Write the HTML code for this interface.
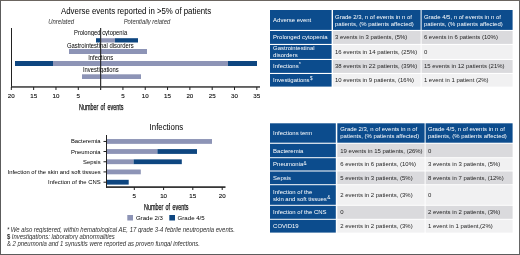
<!DOCTYPE html>
<html><head><meta charset="utf-8"><style>
*{margin:0;padding:0;box-sizing:border-box}
html,body{width:520px;height:255px;overflow:hidden;background:#fff}
body{position:relative;font-family:"Liberation Sans",sans-serif}
.r{position:absolute}
.t{position:absolute;white-space:nowrap;line-height:0;height:0;filter:grayscale(1) blur(0.3px)}
.t>span{display:inline-block;line-height:normal;transform:translateY(-0.905em);}
.ne{font-size:8.2px;color:#111;word-spacing:1.3px;-webkit-text-stroke:0.25px #111}
.ne>span{transform:translateY(-0.905em) scaleX(0.66);transform-origin:0 0;}
.cell{position:absolute;font-size:5.97px;line-height:7.1px;display:flex;align-items:center;white-space:nowrap}
.cell>div{filter:grayscale(1) blur(0.25px)}
.cell sup{font-size:4.6px;vertical-align:baseline;position:relative;top:-1.9px;line-height:0;margin-left:0.3px}
.frame{position:absolute;left:0;top:0;width:520px;height:255px;border:1px solid #5c5c5c;border-top-color:#6b6560;border-right-color:#666;z-index:10}
</style></head>
<body>
<svg width="520" height="255" style="position:absolute;left:0;top:0"><rect x="96.00" y="38.20" width="4.70" height="4.30" fill="#0e4680"/><rect x="100.70" y="38.20" width="14.30" height="4.30" fill="#8d94b6"/><rect x="115.00" y="38.20" width="23.00" height="4.30" fill="#0e4680"/><rect x="69.00" y="49.00" width="78.00" height="5.00" fill="#8d94b6"/><rect x="15.00" y="61.00" width="38.00" height="5.00" fill="#0e4680"/><rect x="53.00" y="61.00" width="175.00" height="5.00" fill="#8d94b6"/><rect x="228.00" y="61.00" width="29.00" height="5.00" fill="#0e4680"/><rect x="82.00" y="74.30" width="59.00" height="4.70" fill="#8d94b6"/><rect x="11.00" y="28.00" width="1.00" height="59.50" fill="#222"/><rect x="100.10" y="28.00" width="1.10" height="62.00" fill="#222"/><rect x="11.00" y="86.20" width="249.00" height="1.50" fill="#383838"/><rect x="10.83" y="87.00" width="1.00" height="3.00" fill="#222"/><rect x="33.15" y="87.00" width="1.00" height="3.00" fill="#222"/><rect x="55.46" y="87.00" width="1.00" height="3.00" fill="#222"/><rect x="77.78" y="87.00" width="1.00" height="3.00" fill="#222"/><rect x="122.42" y="87.00" width="1.00" height="3.00" fill="#222"/><rect x="144.74" y="87.00" width="1.00" height="3.00" fill="#222"/><rect x="167.05" y="87.00" width="1.00" height="3.00" fill="#222"/><rect x="189.37" y="87.00" width="1.00" height="3.00" fill="#222"/><rect x="211.69" y="87.00" width="1.00" height="3.00" fill="#222"/><rect x="234.01" y="87.00" width="1.00" height="3.00" fill="#222"/><rect x="256.33" y="87.00" width="1.00" height="3.00" fill="#222"/><rect x="106.80" y="139.05" width="105.20" height="4.80" fill="#8d94b6"/><rect x="103.50" y="140.95" width="3.00" height="1.00" fill="#222"/><rect x="106.80" y="149.10" width="50.60" height="4.80" fill="#8d94b6"/><rect x="157.40" y="149.10" width="39.60" height="4.80" fill="#0e4680"/><rect x="103.50" y="151.00" width="3.00" height="1.00" fill="#222"/><rect x="106.80" y="159.35" width="26.80" height="4.80" fill="#8d94b6"/><rect x="133.60" y="159.35" width="48.20" height="4.80" fill="#0e4680"/><rect x="103.50" y="161.25" width="3.00" height="1.00" fill="#222"/><rect x="106.80" y="169.50" width="34.00" height="4.80" fill="#8d94b6"/><rect x="103.50" y="171.40" width="3.00" height="1.00" fill="#222"/><rect x="106.80" y="179.80" width="21.90" height="4.80" fill="#0e4680"/><rect x="103.50" y="181.70" width="3.00" height="1.00" fill="#222"/><rect x="106.00" y="135.00" width="1.00" height="52.60" fill="#222"/><rect x="106.00" y="186.30" width="119.50" height="1.60" fill="#222"/><rect x="133.80" y="187.00" width="1.00" height="3.00" fill="#222"/><rect x="163.10" y="187.00" width="1.00" height="3.00" fill="#222"/><rect x="192.30" y="187.00" width="1.00" height="3.00" fill="#222"/><rect x="221.70" y="187.00" width="1.00" height="3.00" fill="#222"/><rect x="127.30" y="215.00" width="5.70" height="5.50" fill="#8d94b6"/><rect x="169.30" y="215.00" width="5.70" height="5.50" fill="#0e4680"/><rect x="270.00" y="10.00" width="61.60" height="19.90" fill="#0c4c8d"/><rect x="333.00" y="10.00" width="87.60" height="19.90" fill="#0c4c8d"/><rect x="421.60" y="10.00" width="91.00" height="19.90" fill="#0c4c8d"/><rect x="270.00" y="31.00" width="61.60" height="12.90" fill="#0c4c8d"/><rect x="333.00" y="31.00" width="87.60" height="12.90" fill="#dadadd"/><rect x="421.60" y="31.00" width="91.00" height="12.90" fill="#dadadd"/><rect x="270.00" y="45.00" width="61.60" height="13.90" fill="#0c4c8d"/><rect x="333.00" y="45.00" width="87.60" height="13.90" fill="#f1f1f2"/><rect x="421.60" y="45.00" width="91.00" height="13.90" fill="#f1f1f2"/><rect x="270.00" y="60.00" width="61.60" height="12.90" fill="#0c4c8d"/><rect x="333.00" y="60.00" width="87.60" height="12.90" fill="#dadadd"/><rect x="421.60" y="60.00" width="91.00" height="12.90" fill="#dadadd"/><rect x="270.00" y="74.00" width="61.60" height="12.60" fill="#0c4c8d"/><rect x="333.00" y="74.00" width="87.60" height="12.60" fill="#f1f1f2"/><rect x="421.60" y="74.00" width="91.00" height="12.60" fill="#f1f1f2"/><rect x="270.00" y="123.30" width="65.80" height="19.40" fill="#0c4c8d"/><rect x="337.30" y="123.30" width="87.30" height="19.40" fill="#0c4c8d"/><rect x="425.60" y="123.30" width="87.00" height="19.40" fill="#0c4c8d"/><rect x="270.00" y="143.80" width="65.80" height="13.40" fill="#0c4c8d"/><rect x="337.30" y="143.80" width="87.30" height="13.40" fill="#dadadd"/><rect x="425.60" y="143.80" width="87.00" height="13.40" fill="#dadadd"/><rect x="270.00" y="158.20" width="65.80" height="12.30" fill="#0c4c8d"/><rect x="337.30" y="158.20" width="87.30" height="12.30" fill="#f1f1f2"/><rect x="425.60" y="158.20" width="87.00" height="12.30" fill="#f1f1f2"/><rect x="270.00" y="171.50" width="65.80" height="12.70" fill="#0c4c8d"/><rect x="337.30" y="171.50" width="87.30" height="12.70" fill="#dadadd"/><rect x="425.60" y="171.50" width="87.00" height="12.70" fill="#dadadd"/><rect x="270.00" y="185.20" width="65.80" height="19.60" fill="#0c4c8d"/><rect x="337.30" y="185.20" width="87.30" height="19.60" fill="#f1f1f2"/><rect x="425.60" y="185.20" width="87.00" height="19.60" fill="#f1f1f2"/><rect x="270.00" y="205.80" width="65.80" height="13.00" fill="#0c4c8d"/><rect x="337.30" y="205.80" width="87.30" height="13.00" fill="#dadadd"/><rect x="425.60" y="205.80" width="87.00" height="13.00" fill="#dadadd"/><rect x="270.00" y="219.80" width="65.80" height="12.80" fill="#0c4c8d"/><rect x="337.30" y="219.80" width="87.30" height="12.80" fill="#f1f1f2"/><rect x="425.60" y="219.80" width="87.00" height="12.80" fill="#f1f1f2"/></svg>
<div class="t" style="top:13.8px;font-size:7.85px;color:#000;left:61px;transform:scaleY(1.1);transform-origin:0 0;"><span>Adverse events reported in &gt;5% of patients</span></div>
<div class="t" style="top:23.6px;font-size:5.93px;color:#333;font-style:italic;left:48.3px;transform:scaleY(1.15);transform-origin:0 0;"><span>Unrelated</span></div>
<div class="t" style="top:23.8px;font-size:5.85px;color:#333;font-style:italic;left:123.7px;transform:scaleY(1.15);transform-origin:0 0;"><span>Potentially related</span></div>
<div class="t" style="top:98px;font-size:6.2px;color:#111;left:11.328000000000003px;transform:translateX(-50%);-webkit-text-stroke:0.12px #111;"><span>20</span></div>
<div class="t" style="top:98px;font-size:6.2px;color:#111;left:33.646px;transform:translateX(-50%);-webkit-text-stroke:0.12px #111;"><span>15</span></div>
<div class="t" style="top:98px;font-size:6.2px;color:#111;left:55.964px;transform:translateX(-50%);-webkit-text-stroke:0.12px #111;"><span>10</span></div>
<div class="t" style="top:98px;font-size:6.2px;color:#111;left:78.282px;transform:translateX(-50%);-webkit-text-stroke:0.12px #111;"><span>5</span></div>
<div class="t" style="top:98px;font-size:6.2px;color:#111;left:122.91799999999999px;transform:translateX(-50%);-webkit-text-stroke:0.12px #111;"><span>5</span></div>
<div class="t" style="top:98px;font-size:6.2px;color:#111;left:145.236px;transform:translateX(-50%);-webkit-text-stroke:0.12px #111;"><span>10</span></div>
<div class="t" style="top:98px;font-size:6.2px;color:#111;left:167.55399999999997px;transform:translateX(-50%);-webkit-text-stroke:0.12px #111;"><span>15</span></div>
<div class="t" style="top:98px;font-size:6.2px;color:#111;left:189.87199999999999px;transform:translateX(-50%);-webkit-text-stroke:0.12px #111;"><span>20</span></div>
<div class="t" style="top:98px;font-size:6.2px;color:#111;left:212.19px;transform:translateX(-50%);-webkit-text-stroke:0.12px #111;"><span>25</span></div>
<div class="t" style="top:98px;font-size:6.2px;color:#111;left:234.50799999999998px;transform:translateX(-50%);-webkit-text-stroke:0.12px #111;"><span>30</span></div>
<div class="t" style="top:98px;font-size:6.2px;color:#111;left:256.826px;transform:translateX(-50%);-webkit-text-stroke:0.12px #111;"><span>35</span></div>
<div class="t" style="top:34.5px;font-size:5.83px;color:#000;left:74px;transform:scaleY(1.15);transform-origin:0 0;"><span>Prolonged cytopenia</span></div>
<div class="t" style="top:48.0px;font-size:5.9px;color:#000;left:66.9px;transform:scaleY(1.15);transform-origin:0 0;"><span>Gastrointestinal disorders</span></div>
<div class="t" style="top:59.7px;font-size:5.84px;color:#000;left:88.2px;transform:scaleY(1.15);transform-origin:0 0;"><span>Infections</span></div>
<div class="t" style="top:72.0px;font-size:5.85px;color:#000;left:83px;transform:scaleY(1.15);transform-origin:0 0;"><span>Investigations</span></div>
<div class="t ne" style="left:78.8px;top:109.9px;"><span>Number of events</span></div>
<div class="t" style="top:130.1px;font-size:7.85px;color:#000;left:149.6px;transform:scaleY(1.07);transform-origin:0 0;"><span>Infections</span></div>
<div class="t" style="top:143.45px;font-size:5.88px;color:#000;right:419.4px;text-align:right;"><span>Bacteremia</span></div>
<div class="t" style="top:153.5px;font-size:5.88px;color:#000;right:419.4px;text-align:right;"><span>Pneumonia</span></div>
<div class="t" style="top:163.75px;font-size:5.88px;color:#000;right:419.4px;text-align:right;"><span>Sepsis</span></div>
<div class="t" style="top:173.9px;font-size:5.88px;color:#000;right:419.4px;text-align:right;"><span>Infection of the skin and soft tissues</span></div>
<div class="t" style="top:184.2px;font-size:5.88px;color:#000;right:419.4px;text-align:right;"><span>Infection of the CNS</span></div>
<div class="t" style="top:198.2px;font-size:6.2px;color:#111;left:134.3px;transform:translateX(-50%);-webkit-text-stroke:0.12px #111;"><span>5</span></div>
<div class="t" style="top:198.2px;font-size:6.2px;color:#111;left:163.6px;transform:translateX(-50%);-webkit-text-stroke:0.12px #111;"><span>10</span></div>
<div class="t" style="top:198.2px;font-size:6.2px;color:#111;left:192.8px;transform:translateX(-50%);-webkit-text-stroke:0.12px #111;"><span>15</span></div>
<div class="t" style="top:198.2px;font-size:6.2px;color:#111;left:222.2px;transform:translateX(-50%);-webkit-text-stroke:0.12px #111;"><span>20</span></div>
<div class="t ne" style="left:144.2px;top:210.4px;"><span>Number of events</span></div>
<div class="t" style="top:220.3px;font-size:6.08px;color:#000;left:135.9px;"><span>Grade 2/3</span></div>
<div class="t" style="top:220.3px;font-size:6.1px;color:#000;left:177.6px;"><span>Grade 4/5</span></div>
<div class="t" style="top:231.9px;font-size:5.95px;color:#2e2e2e;font-style:italic;left:6.9px;transform:scaleY(1.1);transform-origin:0 0;"><span>* We also registered, within hematological AE, 17 grade 3-4 febrile neutropenia events.</span></div>
<div class="t" style="top:239.1px;font-size:5.95px;color:#2e2e2e;font-style:italic;left:6.9px;transform:scaleY(1.1);transform-origin:0 0;"><span><span style="font-style:normal;font-weight:bold">$</span> Investigations: laboratory abnormalities</span></div>
<div class="t" style="top:246.1px;font-size:5.95px;color:#2e2e2e;font-style:italic;left:6.9px;transform:scaleY(1.1);transform-origin:0 0;"><span><span style="font-style:normal">&amp;</span> 2 pneumonia and 1 synusitis were reported as proven fungal infections.</span></div>
<div class="cell" style="left:270px;top:10px;width:61.60px;height:19.90px;color:#fff;padding-left:3.1px;padding-top:1.0px"><div>Adverse event</div></div>
<div class="cell" style="left:333px;top:10px;width:87.60px;height:19.90px;color:#fff;padding-left:2.0px;padding-top:2.0px"><div>Grade 2/3, n of events in n of<br>patients, (% patients affected)</div></div>
<div class="cell" style="left:421.6px;top:10px;width:91.00px;height:19.90px;color:#fff;padding-left:2.3px;padding-top:2.0px"><div>Grade 4/5, n of events in n of<br>patients, (% patients affected)</div></div>
<div class="cell" style="left:270px;top:31px;width:61.60px;height:12.90px;color:#fff;padding-left:3.1px;padding-top:0.8px"><div>Prolonged cytopenia</div></div>
<div class="cell" style="left:333px;top:31px;width:87.60px;height:12.90px;color:#1e1e1e;padding-left:2.0px;padding-top:0.8px"><div>3 events in 3 patients, (5%)</div></div>
<div class="cell" style="left:421.6px;top:31px;width:91.00px;height:12.90px;color:#1e1e1e;padding-left:2.3px;padding-top:0.8px"><div>6 events in 6 patients (10%)</div></div>
<div class="cell" style="left:270px;top:45px;width:61.60px;height:13.90px;color:#fff;padding-left:3.1px;padding-top:0.8px"><div>Gastrointestinal<br>disorders</div></div>
<div class="cell" style="left:333px;top:45px;width:87.60px;height:13.90px;color:#1e1e1e;padding-left:2.0px;padding-top:0.8px"><div>16 events in 14 patients, (25%)</div></div>
<div class="cell" style="left:421.6px;top:45px;width:91.00px;height:13.90px;color:#1e1e1e;padding-left:2.3px;padding-top:0.8px"><div>0</div></div>
<div class="cell" style="left:270px;top:60px;width:61.60px;height:12.90px;color:#fff;padding-left:3.1px;padding-top:0.8px"><div>Infections<sup>*</sup></div></div>
<div class="cell" style="left:333px;top:60px;width:87.60px;height:12.90px;color:#1e1e1e;padding-left:2.0px;padding-top:0.8px"><div>38 events in 22 patients, (39%)</div></div>
<div class="cell" style="left:421.6px;top:60px;width:91.00px;height:12.90px;color:#1e1e1e;padding-left:2.3px;padding-top:0.8px"><div>15 events in 12 patients (21%)</div></div>
<div class="cell" style="left:270px;top:74px;width:61.60px;height:12.60px;color:#fff;padding-left:3.1px;padding-top:0.8px"><div>Investigations<sup>$</sup></div></div>
<div class="cell" style="left:333px;top:74px;width:87.60px;height:12.60px;color:#1e1e1e;padding-left:2.0px;padding-top:0.8px"><div>10 events in 9 patients, (16%)</div></div>
<div class="cell" style="left:421.6px;top:74px;width:91.00px;height:12.60px;color:#1e1e1e;padding-left:2.3px;padding-top:0.8px"><div>1 event in 1 patient (2%)</div></div>
<div class="cell" style="left:270px;top:123.3px;width:65.80px;height:19.40px;color:#fff;padding-left:3.1px;padding-top:0.6px"><div>Infections term</div></div>
<div class="cell" style="left:337.3px;top:123.3px;width:87.30px;height:19.40px;color:#fff;padding-left:3.0px;padding-top:0.8px"><div>Grade 2/3, n of events in n of<br>patients, (% patients affected)</div></div>
<div class="cell" style="left:425.6px;top:123.3px;width:87.00px;height:19.40px;color:#fff;padding-left:2.4px;padding-top:0.8px"><div>Grade 4/5, n of events in n of<br>patients, (% patients affected)</div></div>
<div class="cell" style="left:270px;top:143.8px;width:65.80px;height:13.40px;color:#fff;padding-left:3.1px;padding-top:1.3px"><div>Bacteremia</div></div>
<div class="cell" style="left:337.3px;top:143.8px;width:87.30px;height:13.40px;color:#1e1e1e;padding-left:3.0px;padding-top:1.3px"><div>19 events in 15 patients, (26%)</div></div>
<div class="cell" style="left:425.6px;top:143.8px;width:87.00px;height:13.40px;color:#1e1e1e;padding-left:2.4px;padding-top:1.3px"><div>0</div></div>
<div class="cell" style="left:270px;top:158.2px;width:65.80px;height:12.30px;color:#fff;padding-left:3.1px;padding-top:1.3px"><div>Pneumonia<sup>&amp;</sup></div></div>
<div class="cell" style="left:337.3px;top:158.2px;width:87.30px;height:12.30px;color:#1e1e1e;padding-left:3.0px;padding-top:1.3px"><div>6 events in 6 patients, (10%)</div></div>
<div class="cell" style="left:425.6px;top:158.2px;width:87.00px;height:12.30px;color:#1e1e1e;padding-left:2.4px;padding-top:1.3px"><div>3 events in 3 patients, (5%)</div></div>
<div class="cell" style="left:270px;top:171.5px;width:65.80px;height:12.70px;color:#fff;padding-left:3.1px;padding-top:1.3px"><div>Sepsis</div></div>
<div class="cell" style="left:337.3px;top:171.5px;width:87.30px;height:12.70px;color:#1e1e1e;padding-left:3.0px;padding-top:1.3px"><div>5 events in 3 patients, (5%)</div></div>
<div class="cell" style="left:425.6px;top:171.5px;width:87.00px;height:12.70px;color:#1e1e1e;padding-left:2.4px;padding-top:1.3px"><div>8 events in 7 patients, (12%)</div></div>
<div class="cell" style="left:270px;top:185.2px;width:65.80px;height:19.60px;color:#fff;padding-left:3.1px;padding-top:1.3px"><div>Infection of the<br>skin and soft tissues<sup>&amp;</sup></div></div>
<div class="cell" style="left:337.3px;top:185.2px;width:87.30px;height:19.60px;color:#1e1e1e;padding-left:3.0px;padding-top:1.3px"><div>2 events in 2 patients, (3%)</div></div>
<div class="cell" style="left:425.6px;top:185.2px;width:87.00px;height:19.60px;color:#1e1e1e;padding-left:2.4px;padding-top:1.3px"><div>0</div></div>
<div class="cell" style="left:270px;top:205.8px;width:65.80px;height:13.00px;color:#fff;padding-left:3.1px;padding-top:1.3px"><div>Infection of the CNS</div></div>
<div class="cell" style="left:337.3px;top:205.8px;width:87.30px;height:13.00px;color:#1e1e1e;padding-left:3.0px;padding-top:1.3px"><div>0</div></div>
<div class="cell" style="left:425.6px;top:205.8px;width:87.00px;height:13.00px;color:#1e1e1e;padding-left:2.4px;padding-top:1.3px"><div>2 events in 2 patients, (3%)</div></div>
<div class="cell" style="left:270px;top:219.8px;width:65.80px;height:12.80px;color:#fff;padding-left:3.1px;padding-top:1.3px"><div>COVID19</div></div>
<div class="cell" style="left:337.3px;top:219.8px;width:87.30px;height:12.80px;color:#1e1e1e;padding-left:3.0px;padding-top:1.3px"><div>2 events in 2 patients, (3%)</div></div>
<div class="cell" style="left:425.6px;top:219.8px;width:87.00px;height:12.80px;color:#1e1e1e;padding-left:2.4px;padding-top:1.3px"><div>1 event in 1 patient,(2%)</div></div>
<div class="frame"></div>
</body></html>
